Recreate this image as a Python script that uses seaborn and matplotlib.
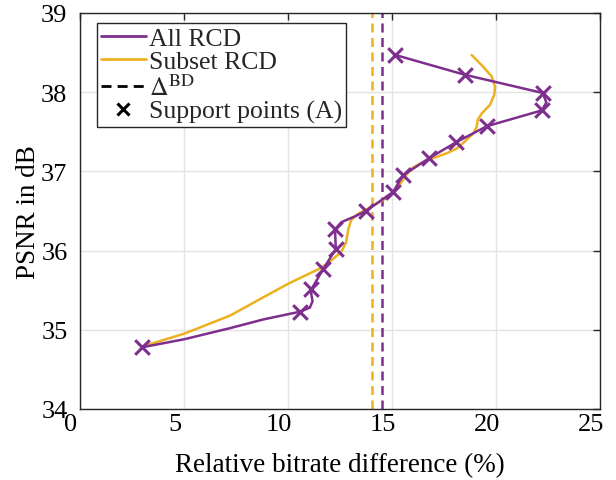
import numpy as np
import pandas as pd
import seaborn as sns
import matplotlib
matplotlib.use("Agg")
import matplotlib.pyplot as plt
from matplotlib.lines import Line2D
from matplotlib.transforms import ScaledTranslation

# ---- data ----
# All RCD curve (traced, ordered along PSNR)
all_x = [3.0, 5.0, 7.2, 8.8, 10.6, 11.05, 11.18, 11.12, 11.12, 11.7, 12.3, 12.26,
         12.57, 13.2, 13.75, 15.05, 15.53, 16.8, 18.1, 19.55, 22.2, 22.42, 22.25, 18.5, 15.16]
all_y = [34.78, 34.88, 35.02, 35.13, 35.23, 35.28, 35.36, 35.45, 35.51, 35.77, 36.02, 36.27,
         36.36, 36.43, 36.50, 36.74, 36.95, 37.17, 37.37, 37.57, 37.77, 37.87, 37.99, 38.22, 38.47]

# Support points (A)
sup_x = [3.0, 10.6, 11.12, 11.7, 12.3, 12.26, 13.75, 15.05, 15.53, 16.8, 18.1, 19.55, 22.2, 22.25, 18.5, 15.16]
sup_y = [34.78, 35.23, 35.51, 35.77, 36.02, 36.27, 36.50, 36.74, 36.95, 37.17, 37.37, 37.57, 37.77, 37.99, 38.22, 38.47]

# Subset RCD curve (traced)
sub_x = [3.0, 5.0, 7.22, 8.81, 10.0, 10.71, 11.5, 11.92, 12.55, 12.79, 12.9, 13.03, 13.34, 13.97,
         14.44, 14.92, 15.32, 15.64, 15.96, 16.36, 17.0, 17.64, 18.12, 18.51, 18.91, 19.07,
         19.12, 19.31, 19.71, 19.92, 19.95, 19.79, 19.39, 18.83]
sub_y = [34.79, 34.95, 35.18, 35.41, 35.58, 35.67, 35.77, 35.84, 35.98, 36.10, 36.27, 36.38, 36.46, 36.55,
         36.62, 36.69, 36.81, 36.94, 37.04, 37.10, 37.17, 37.23, 37.29, 37.38, 37.48, 37.56,
         37.65, 37.73, 37.84, 37.97, 38.07, 38.20, 38.32, 38.47]

# Delta BD values
bd_all = 14.5
bd_subset = 14.02

x_ticks = [0, 5, 10, 15, 20, 25]
y_ticks = [34, 35, 36, 37, 38, 39]

PURPLE = "#7E2F8E"
ORANGE = "#EDB120"

sns.set_theme(style="white")
plt.rcParams["font.family"] = ["Liberation Serif", "DejaVu Serif"]
plt.rcParams["mathtext.fontset"] = "stix"

W, H = 616, 481
fig = plt.figure(figsize=(W / 100, H / 100), dpi=100)
ax = fig.add_axes([80 / W, 1 - 410 / H, 520 / W, 396 / H])

df_all = pd.DataFrame({"x": all_x, "y": all_y})
df_sub = pd.DataFrame({"x": sub_x, "y": sub_y})
df_sup = pd.DataFrame({"x": sup_x, "y": sup_y})

DASH = (0, (3.6, 2.2))
ax.axvline(bd_subset, color=ORANGE, lw=1.8, ls=DASH, zorder=2)
ax.axvline(bd_all, color=PURPLE, lw=1.8, ls=DASH, zorder=2)

sns.lineplot(data=df_sub, x="x", y="y", sort=False, estimator=None, color=ORANGE,
             lw=1.8, ax=ax, zorder=3)
sns.lineplot(data=df_all, x="x", y="y", sort=False, estimator=None, color=PURPLE,
             lw=1.8, ax=ax, zorder=4)
sns.scatterplot(data=df_sup, x="x", y="y", marker="x", s=110, color=PURPLE,
                linewidth=2.2, ax=ax, zorder=5)

ax.set_xlim(0, 25)
ax.set_ylim(34, 39)
ax.set_xticks(x_ticks)
ax.set_yticks(y_ticks)
ax.set_xticklabels([str(t) for t in x_ticks])
ax.set_yticklabels([str(t) for t in y_ticks])
ax.grid(True, color="#E3E3E3", lw=1)
ax.set_axisbelow(True)
for s in ax.spines.values():
    s.set_color("#262626")
    s.set_linewidth(1.0)
ax.tick_params(direction="in", length=5, width=1, colors="#262626", labelsize=19,
               top=True, right=True, labelcolor="black")
ax.tick_params(axis="x", pad=3)
ax.tick_params(axis="y", pad=9)
off = ScaledTranslation(-6.5 / 72, 0, fig.dpi_scale_trans)
for lab in ax.get_xticklabels():
    lab.set_transform(lab.get_transform() + off)
ax.set_xlabel("Relative bitrate difference (%)", fontsize=19.5, color="black", labelpad=12)
ax.set_ylabel("PSNR in dB", fontsize=19.5, color="black", labelpad=0)

handles = [
    Line2D([], [], color=PURPLE, lw=2),
    Line2D([], [], color=ORANGE, lw=2),
    Line2D([], [], color="black", lw=2, ls=DASH),
    Line2D([], [], color="black", lw=0, marker="x", markersize=9, mew=2.2),
]
labels = ["All RCD", "Subset RCD", r"$\Delta^{\mathrm{BD}}$", "Support points (A)"]
leg = ax.legend(handles, labels, loc="upper left",
                bbox_to_anchor=(17 / 520, 1 - 10 / 396),
                fontsize=18.5, frameon=True, fancybox=False, edgecolor="#262626",
                framealpha=1, borderpad=0.15, labelspacing=0.02, handlelength=1.75,
                handletextpad=0.12, borderaxespad=0)
leg.get_frame().set_linewidth(1.0)

fig.savefig("out.png", dpi=100)
